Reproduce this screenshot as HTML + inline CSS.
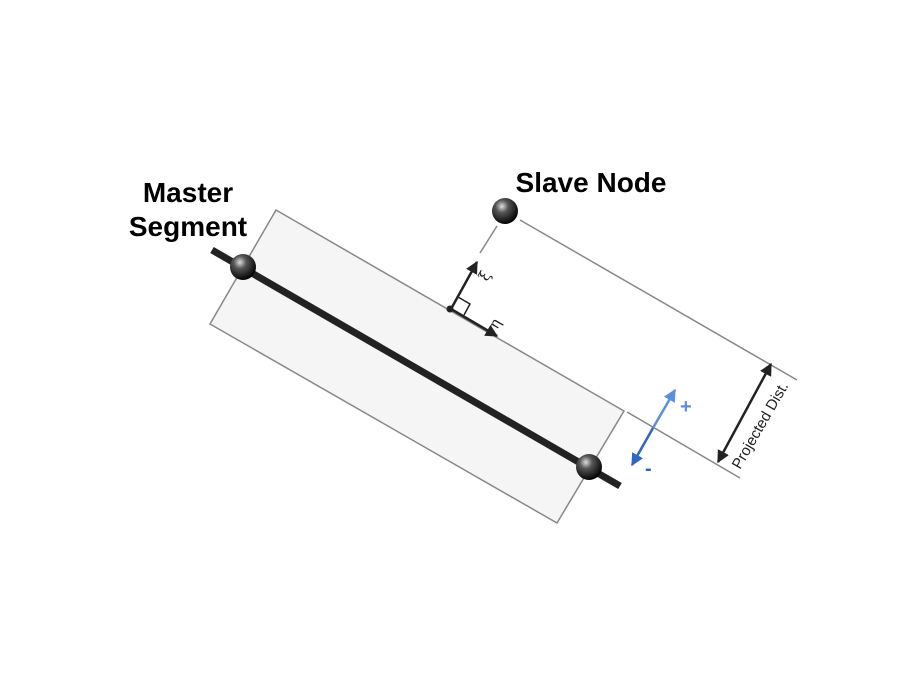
<!DOCTYPE html>
<html><head><style>body{margin:0;background:#fff}svg{display:block}</style></head><body>
<svg width="900" height="675" viewBox="0 0 900 675" xmlns="http://www.w3.org/2000/svg">
<defs>
<radialGradient id="g" cx="0.38" cy="0.32" r="0.7"><stop offset="0" stop-color="#ddd"/><stop offset="0.35" stop-color="#555"/><stop offset="1" stop-color="#000"/></radialGradient>
<marker id="a" viewBox="0 0 10 10" refX="9" refY="5" markerWidth="5" markerHeight="5" orient="auto-start-reverse"><path d="M0,0L10,5L0,10z" fill="#222"/></marker>
<marker id="ab" viewBox="0 0 10 10" refX="9" refY="5" markerWidth="5" markerHeight="5" orient="auto"><path d="M0,0L10,5L0,10z" fill="#5b8fe0"/></marker>
<marker id="ad" viewBox="0 0 10 10" refX="9" refY="5" markerWidth="5" markerHeight="5" orient="auto"><path d="M0,0L10,5L0,10z" fill="#2f66c0"/></marker>
</defs>
<polygon points="276,210 624,411 557,523 210,324" fill="#f5f5f5" stroke="#888" stroke-width="1.5"/>
<line x1="627" y1="412" x2="740" y2="478" stroke="#888" stroke-width="1.5"/>
<line x1="520" y1="220" x2="797" y2="380" stroke="#888" stroke-width="1.5"/>
<line x1="497" y1="226" x2="480" y2="253" stroke="#888" stroke-width="1.5"/>
<line x1="212" y1="250" x2="620" y2="486" stroke="#222" stroke-width="7"/>
<line x1="451" y1="309" x2="477" y2="262" stroke="#222" stroke-width="2.5" marker-end="url(#a)"/>
<line x1="451" y1="309" x2="497" y2="336" stroke="#222" stroke-width="2.5" marker-end="url(#a)"/>
<polyline points="458,297 470,304 464,315" fill="none" stroke="#222" stroke-width="1.5"/>
<circle cx="450" cy="309" r="3.5" fill="#222"/>
<text x="0" y="0" transform="translate(487,282) rotate(-60)" font-family="DejaVu Serif,serif" font-size="15" fill="#222">ξ</text>
<text x="0" y="0" transform="translate(497,330) rotate(-60)" font-family="DejaVu Serif,serif" font-size="15" fill="#222">η</text>
<line x1="718" y1="462" x2="771" y2="364" stroke="#222" stroke-width="2.5" marker-start="url(#a)" marker-end="url(#a)"/>
<text transform="translate(740,470) rotate(-60)" font-family="Liberation Sans,sans-serif" font-size="15" fill="#222">Projected Dist.</text>
<line x1="653" y1="428" x2="675" y2="390" stroke="#5b8fe0" stroke-width="2.5" marker-end="url(#ab)"/>
<line x1="653" y1="428" x2="632" y2="465" stroke="#2f66c0" stroke-width="2.5" marker-end="url(#ad)"/>
<text x="680" y="413" font-family="Liberation Sans,sans-serif" font-size="20" font-weight="bold" fill="#5b8fe0">+</text>
<text x="645" y="475" font-family="Liberation Sans,sans-serif" font-size="20" font-weight="bold" fill="#2f66c0">-</text>
<circle cx="243" cy="267" r="13" fill="url(#g)"/>
<circle cx="589" cy="467" r="13" fill="url(#g)"/>
<circle cx="505" cy="211" r="13" fill="url(#g)"/>
<g font-family="Liberation Sans,sans-serif" font-size="28" font-weight="bold" fill="#000" text-anchor="middle">
<text x="188" y="202">Master</text>
<text x="188" y="236">Segment</text>
<text x="591" y="192">Slave Node</text>
</g>
</svg>
</body></html>
